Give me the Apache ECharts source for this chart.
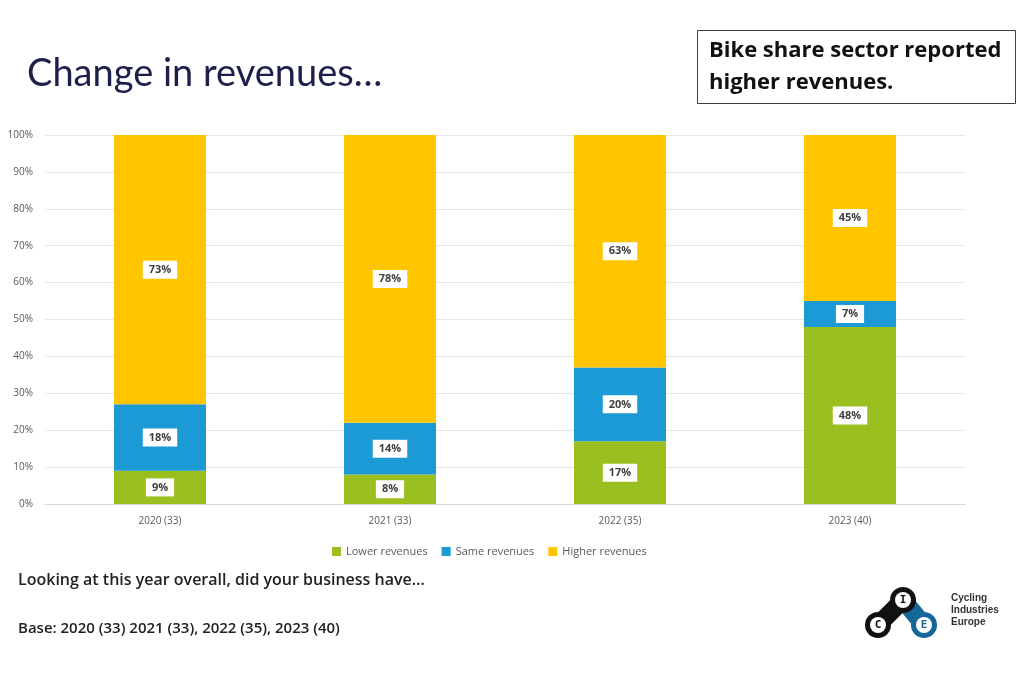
<!DOCTYPE html>
<html><head><meta charset="utf-8">
<script src="https://cdn.jsdelivr.net/npm/echarts@6/dist/echarts.min.js"></script>
<style>html,body{margin:0;padding:0;background:#fff;}#c{width:1024px;height:683px;}</style>
</head><body><div id="c"></div>
<script>
const categories = ['2020 (33)', '2021 (33)', '2022 (35)', '2023 (40)'];
const lowerRevenues = [9, 8, 17, 48];
const sameRevenues = [18, 14, 20, 7];
const higherRevenues = [73, 78, 63, 45];
const seriesNames = ['Lower revenues', 'Same revenues', 'Higher revenues'];
const colors = ['#9bbf1e', '#1b9ad6', '#ffc600'];

const chart = echarts.init(document.getElementById('c'));
const label = {
  show: true, formatter: '{c}%', backgroundColor: '#fff', color: '#404040',
  fontSize: 11, fontWeight: 'bold', fontFamily: 'Open Sans', padding: [4, 6, 3, 6]
};
function mk(name, data, i) {
  return { name, type: 'bar', stack: 'a', data, barWidth: '40%', itemStyle: { color: colors[i] }, label };
}
chart.setOption({
  animation: false,
  textStyle: { fontFamily: 'Open Sans' },
  grid: { left: 45, right: 59, top: 135, bottom: 179 },
  legend: {
    top: 541, left: 327, itemWidth: 9, itemHeight: 9, itemGap: 14,
    icon: 'rect', textStyle: { color: '#595959', fontSize: 11, fontFamily: 'Open Sans' },
    data: seriesNames
  },
  xAxis: {
    type: 'category', data: categories,
    axisLine: { lineStyle: { color: '#d9d9d9' } }, axisTick: { show: false },
    axisLabel: { color: '#595959', fontSize: 10, margin: 12 }
  },
  yAxis: {
    type: 'value', min: 0, max: 100, interval: 10,
    axisLabel: { formatter: '{value}%', color: '#595959', fontSize: 10, margin: 12 },
    splitLine: { lineStyle: { color: '#e6e6e6' } }
  },
  series: [mk(seriesNames[0], lowerRevenues, 0), mk(seriesNames[1], sameRevenues, 1), mk(seriesNames[2], higherRevenues, 2)],
  graphic: [
    { type: 'text', left: 27, top: 55, style: { text: 'Change in revenues…', fontSize: 38, fontFamily: 'Lato', fontWeight: 'normal', fill: '#1f1f4b' } },
    { type: 'rect', shape: { x: 697.5, y: 30.5, width: 318, height: 73 }, style: { fill: '#fff', stroke: '#404040', lineWidth: 1 } },
    { type: 'text', left: 709, top: 35, style: { text: 'Bike share sector reported\nhigher revenues.', fontSize: 22, lineHeight: 32, fontWeight: 'bold', fontFamily: 'Open Sans', fill: '#111' } },
    { type: 'text', left: 18, top: 572, style: { text: 'Looking at this year overall, did your business have…', fontSize: 16, fontWeight: 600, fontFamily: 'Open Sans', fill: '#222' } },
    { type: 'text', left: 18, top: 621, style: { text: 'Base: 2020 (33) 2021 (33), 2022 (35), 2023 (40)', fontSize: 15, fontWeight: 600, fontFamily: 'Open Sans', fill: '#222' } },
    // logo
    { type: 'line', shape: { x1: 878, y1: 625, x2: 903, y2: 600 }, style: { stroke: '#111', lineWidth: 18 } },
    { type: 'line', shape: { x1: 903, y1: 600, x2: 924, y2: 625 }, style: { stroke: '#15679a', lineWidth: 18 } },
    { type: 'circle', shape: { cx: 878, cy: 625, r: 13 }, style: { fill: '#111' } },
    { type: 'circle', shape: { cx: 903, cy: 600, r: 13 }, style: { fill: '#111' } },
    { type: 'circle', shape: { cx: 924, cy: 625, r: 13 }, style: { fill: '#15679a' } },
    { type: 'circle', shape: { cx: 878, cy: 625, r: 8 }, style: { fill: '#fff' } },
    { type: 'circle', shape: { cx: 903, cy: 600, r: 8 }, style: { fill: '#fff' } },
    { type: 'circle', shape: { cx: 924, cy: 625, r: 8 }, style: { fill: '#fff' } },
    { type: 'text', x: 878, y: 625, style: { text: 'C', align: 'center', verticalAlign: 'middle', fontSize: 11, fontWeight: 'bold', fill: '#111', fontFamily: 'DejaVu Sans Mono' } },
    { type: 'text', x: 903, y: 600, style: { text: 'I', align: 'center', verticalAlign: 'middle', fontSize: 11, fontWeight: 'bold', fill: '#111', fontFamily: 'DejaVu Sans Mono' } },
    { type: 'text', x: 924, y: 625, style: { text: 'E', align: 'center', verticalAlign: 'middle', fontSize: 11, fontWeight: 'bold', fill: '#15679a', fontFamily: 'DejaVu Sans Mono' } },
    { type: 'text', left: 951, top: 592, style: { text: 'Cycling\nIndustries\nEurope', fontSize: 10, lineHeight: 12, fontWeight: 'bold', fill: '#333', fontFamily: 'Liberation Sans' } }
  ]
});
</script></body></html>
